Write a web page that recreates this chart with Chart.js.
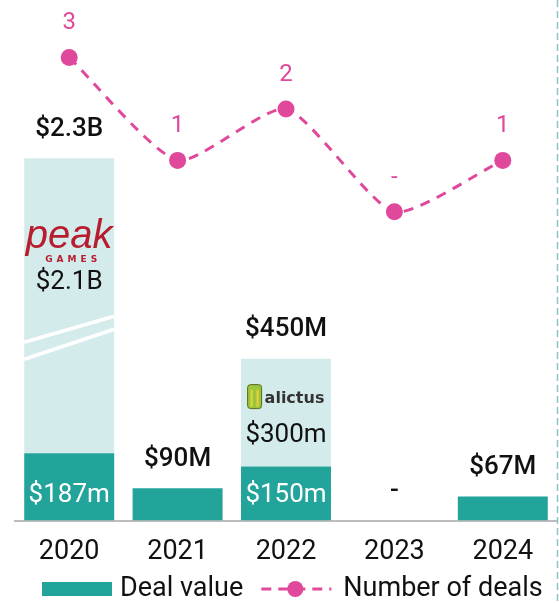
<!DOCTYPE html>
<html>
<head>
<meta charset="utf-8">
<script src="https://cdn.jsdelivr.net/npm/chart.js@4.4.1/dist/chart.umd.min.js"></script>
<style>
  html, body { margin: 0; padding: 0; background: #fff; }
  #wrap { position: relative; width: 559px; height: 603px; }
</style>
</head>
<body>
<div id="wrap"><canvas id="chartCanvas"></canvas></div>
<script>
const years = ['2020', '2021', '2022', '2023', '2024'];
// deal value in $M, lower (dark) part of each bar
const baseValues = [187, 90, 150, 0, 67];
// upper (light) part; 2020 is drawn cut by an axis break, so 820 is its drawn size, not the real 2100
const topValues = [820, 0, 300, 0, 0];
const brokenBars = [true, false, false, false, false];
const totalLabels = ['$2.3B', '$90M', '$450M', '-', '$67M'];
const baseLabels = ['$187m', '', '$150m', '', ''];
const topLabels = ['$2.1B', '', '$300m', '', ''];
const buyers = ['peak', '', 'alictus', '', ''];
const dealCounts = [3, 1, 2, 0, 1];
const dealLabels = ['3', '1', '2', '-', '1'];

const TEAL = '#23a49b';
const LIGHT = '#d4ebeb';
const PINK = '#e0489b';
const FONT = 'Roboto';

function drawPeak(ctx, x, y) {
    ctx.save();
    ctx.fillStyle = '#b81d2f';
    ctx.font = 'italic 500 40px "Liberation Sans"';
    ctx.fillText('peak', x, y - 5);
    ctx.font = 'bold 9px "DejaVu Sans"';
    ctx.letterSpacing = '4px';
    ctx.fillText('GAMES', x + 4, y + 17);
    ctx.restore();
}

function drawAlictus(ctx, x, y) {
    ctx.save();
    ctx.font = 'bold 16px "DejaVu Sans"';
    const w = ctx.measureText('alictus').width;
    const left = x - (w + 17) / 2;
    // little cactus icon
    ctx.fillStyle = '#9bc53d';
    ctx.strokeStyle = '#5a6b1c';
    ctx.lineWidth = 1;
    ctx.beginPath();
    ctx.roundRect(left, y - 13, 14, 24, 3);
    ctx.fill();
    ctx.stroke();
    ctx.fillStyle = '#e6d43a';
    ctx.fillRect(left + 3, y - 8, 2, 17);
    ctx.fillRect(left + 9, y - 8, 2, 17);
    ctx.fillStyle = '#333';
    ctx.textAlign = 'left';
    ctx.fillText('alictus', left + 17, y + 1);
    ctx.restore();
}

const labelPlugin = {
    id: 'barLabels',
    afterDatasetsDraw(chart) {
        const ctx = chart.ctx;
        const baseMeta = chart.getDatasetMeta(0);
        const topMeta = chart.getDatasetMeta(1);
        const lineMeta = chart.getDatasetMeta(2);
        const zeroY = chart.scales.y.getPixelForValue(0);
        ctx.save();
        ctx.textAlign = 'center';
        ctx.textBaseline = 'middle';
        years.forEach((yr, i) => {
            const b = baseMeta.data[i];
            const t = topMeta.data[i];
            const x = b.x;
            const left = x - b.width / 2, right = x + b.width / 2;
            let anchor = b.y;

            if (brokenBars[i]) {
                const breakY = t.y + (b.y - t.y) * 0.6;
                ctx.strokeStyle = '#fff';
                ctx.lineWidth = 3.5;
                ctx.beginPath();
                ctx.moveTo(left, breakY + 7);
                ctx.lineTo(right, breakY - 19);
                ctx.moveTo(left, breakY + 24);
                ctx.lineTo(right, breakY - 6);
                ctx.stroke();
                anchor = breakY - 22;
            }

            // total above bar
            ctx.fillStyle = '#111';
            ctx.font = '500 26px ' + FONT;
            ctx.fillText(totalLabels[i], x, t.y - 29);

            if (topLabels[i]) {
                ctx.font = '26px ' + FONT;
                ctx.fillStyle = '#111';
                ctx.fillText(topLabels[i], x, anchor - 31);
            }
            if (buyers[i] === 'peak') drawPeak(ctx, x, anchor - 71);
            if (buyers[i] === 'alictus') drawAlictus(ctx, x, anchor - 69);

            if (baseLabels[i]) {
                ctx.font = '26px ' + FONT;
                ctx.fillStyle = '#fff';
                ctx.fillText(baseLabels[i], x, zeroY - 25);
            }

            const p = lineMeta.data[i];
            ctx.font = '24px ' + FONT;
            ctx.fillStyle = PINK;
            ctx.fillText(dealLabels[i], p.x, p.y - 34);
        });
        ctx.restore();
    },
    afterDraw(chart) {
        const ctx = chart.ctx;
        const W = chart.width, H = chart.height;
        ctx.save();
        // dashed frame line on the right
        ctx.strokeStyle = '#8fc3c7';
        ctx.lineWidth = 1.5;
        ctx.setLineDash([7, 4]);
        ctx.beginPath();
        ctx.moveTo(W - 1.5, 0);
        ctx.lineTo(W - 1.5, H);
        ctx.stroke();
        ctx.setLineDash([]);

        // legend
        const y = 589;
        ctx.font = '27px ' + FONT;
        ctx.textBaseline = 'middle';
        ctx.textAlign = 'left';
        const t1 = chart.data.datasets[0].label, t2 = chart.data.datasets[2].label;
        const w1 = ctx.measureText(t1).width;
        let x = 42;
        ctx.fillStyle = TEAL;
        ctx.fillRect(x, y - 7, 70, 14);
        x += 78;
        ctx.fillStyle = '#111';
        ctx.fillText(t1, x, y);
        x += w1 + 18;
        ctx.strokeStyle = PINK;
        ctx.lineWidth = 3;
        ctx.setLineDash([10, 7]);
        ctx.beginPath();
        ctx.moveTo(x, y);
        ctx.lineTo(x + 70, y);
        ctx.stroke();
        ctx.setLineDash([]);
        ctx.fillStyle = PINK;
        ctx.beginPath();
        ctx.arc(x + 34, y, 8, 0, Math.PI * 2);
        ctx.fill();
        x += 82;
        ctx.fillStyle = '#111';
        ctx.fillText(t2, x, y);
        ctx.restore();
    }
};

new Chart(document.getElementById('chartCanvas'), {
    type: 'bar',
    data: {
        labels: years,
        datasets: [{
            label: 'Deal value',
            data: baseValues,
            backgroundColor: TEAL,
            order: 2,
            yAxisID: 'y'
        }, {
            label: 'Deal value (top)',
            data: topValues,
            backgroundColor: LIGHT,
            order: 3,
            yAxisID: 'y'
        }, {
            type: 'line',
            label: 'Number of deals',
            data: dealCounts,
            borderColor: PINK,
            borderWidth: 3,
            borderDash: [10, 8],
            tension: 0.2,
            pointRadius: 8.5,
            pointBackgroundColor: PINK,
            pointBorderWidth: 0,
            order: 0,
            clip: false,
            yAxisID: 'y1'
        }]
    },
    options: {
        responsive: true,
        maintainAspectRatio: false,
        animation: false,
        layout: { autoPadding: false, padding: { top: 6, left: 15, right: 2, bottom: 20 } },
        datasets: { bar: { categoryPercentage: 1, barPercentage: 0.83 } },
        plugins: { legend: { display: false }, tooltip: { enabled: false } },
        scales: {
            x: {
                stacked: true,
                grid: { display: false, drawTicks: false },
                border: { display: true, color: '#bdbdbd', width: 2 },
                ticks: { color: '#111', font: { family: FONT, size: 27 }, padding: 15 }
            },
            y: { stacked: true, display: false, min: 0, max: 1430 },
            y1: { display: false, min: -6, max: 4 }
        }
    },
    plugins: [labelPlugin]
});
</script>
</body>
</html>
